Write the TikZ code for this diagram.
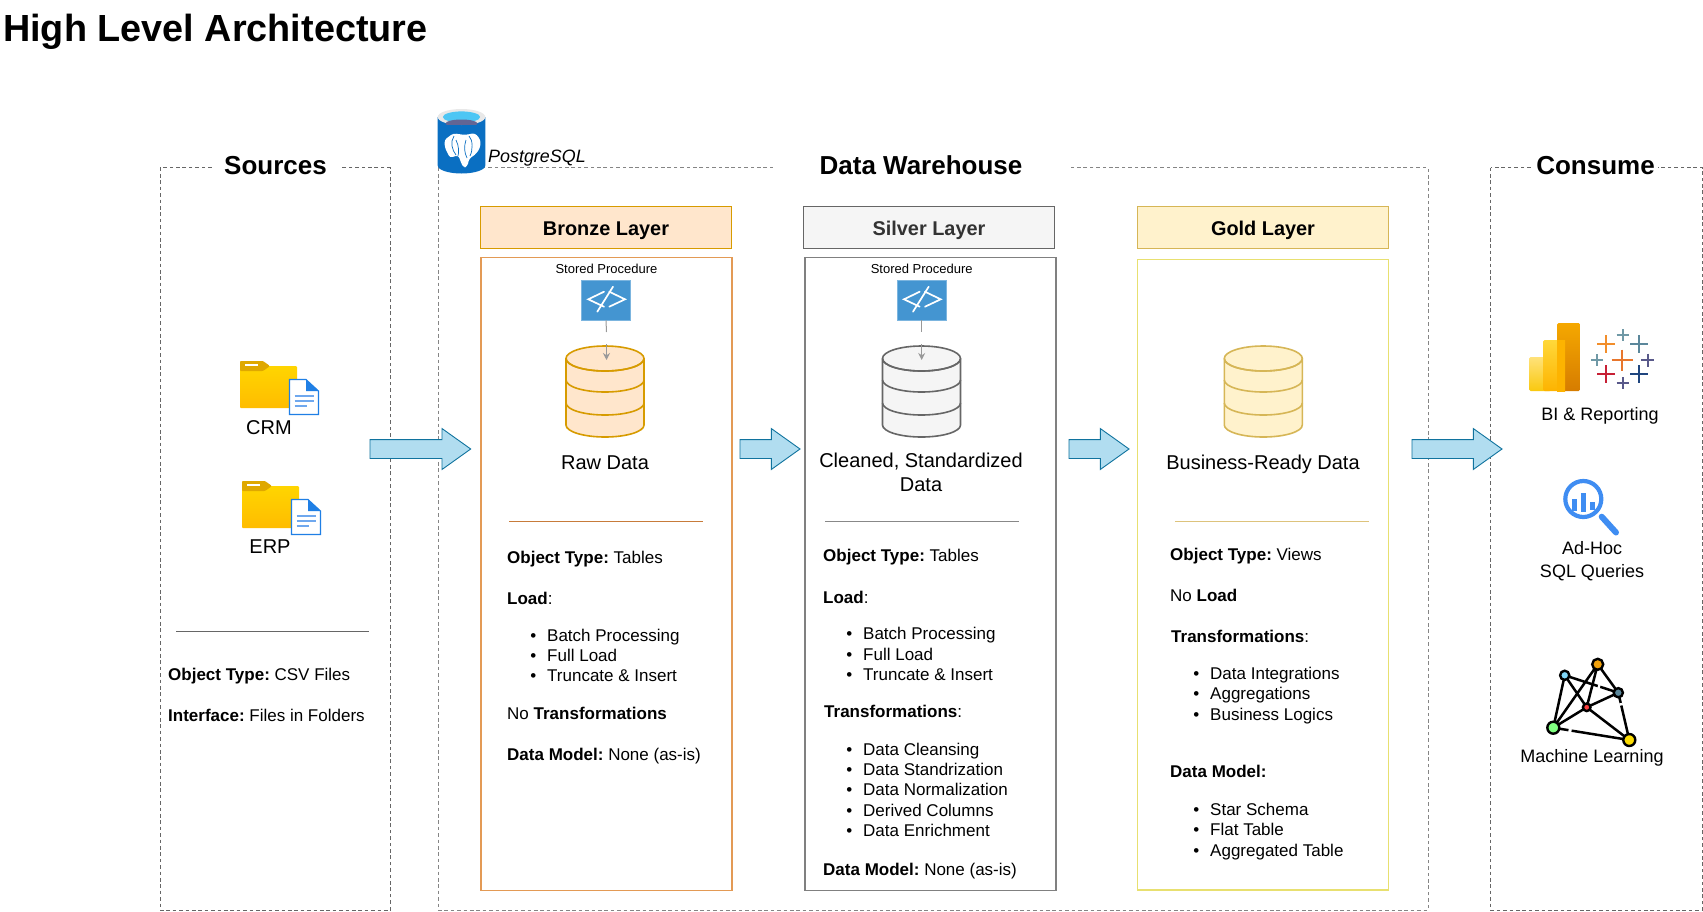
\documentclass[tikz,border=0pt]{standalone}
\usepackage{fontspec}
\setmainfont{Liberation Sans}
\usetikzlibrary{shapes.arrows,arrows.meta,calc}
\frenchspacing
\definecolor{frameC}{HTML}{666666}
\definecolor{brF}{HTML}{FFE6CC}\definecolor{brS}{HTML}{D79B00}\definecolor{brB}{HTML}{E39A55}\definecolor{brL}{HTML}{C77B3A}
\definecolor{siF}{HTML}{F5F5F5}\definecolor{siS}{HTML}{666666}\definecolor{siB}{HTML}{808080}\definecolor{siL}{HTML}{888888}
\definecolor{goF}{HTML}{FFF2CC}\definecolor{goS}{HTML}{D6B656}\definecolor{goB}{HTML}{E8E070}\definecolor{goL}{HTML}{DDC37C}
\definecolor{arF}{HTML}{B1DDF0}\definecolor{arS}{HTML}{10739E}
\definecolor{codeC}{HTML}{4495D1}
\definecolor{docB}{HTML}{1F7FE5}\definecolor{docL}{HTML}{6FA8EE}
\definecolor{magC}{HTML}{3F8DF2}
\definecolor{pgB}{HTML}{0A6FC2}
\definecolor{fdT}{HTML}{FFD500}\definecolor{fdB}{HTML}{FFBC00}\definecolor{fdTab}{HTML}{DFA800}
\definecolor{pbA}{HTML}{FFE27A}\definecolor{pbB}{HTML}{F9C80E}\definecolor{pbC}{HTML}{FFD83A}\definecolor{pbD}{HTML}{FDB300}
\definecolor{pbE}{HTML}{F5A800}\definecolor{pbF}{HTML}{D67C00}
\definecolor{tbO}{HTML}{E8762C}\definecolor{tbO2}{HTML}{F28E2B}\definecolor{tbS}{HTML}{5B879B}\definecolor{tbT}{HTML}{7099A6}
\definecolor{tbP}{HTML}{59598A}\definecolor{tbR}{HTML}{C72035}\definecolor{tbN}{HTML}{1F457E}
\tikzset{
  frameline/.style={draw=frameC,line width=0.9pt,dash pattern=on 3.6pt off 2.8pt},
  boxnode/.style={rectangle,inner sep=0,outer sep=0,anchor=north west,line width=1.2pt},
  bodytxt/.style={font=\fontsize{17}{20}\selectfont,text height=12.2pt,text depth=0pt,inner sep=0,anchor=west},
  midtxt/.style={font=\fontsize{20}{24}\selectfont,text height=14.3pt,text depth=0pt,inner sep=0,anchor=center},
  laytxt/.style={font=\fontsize{19.9}{24}\selectfont\bfseries,text height=14.3pt,text depth=0pt,inner sep=0,anchor=center},
  usetxt/.style={font=\fontsize{18}{22}\selectfont,text height=13pt,text depth=0pt,inner sep=0,anchor=center},
  sectxt/.style={font=\fontsize{26}{30}\selectfont\bfseries,text height=18.6pt,text depth=0pt,inner sep=0,anchor=center,fill=white},
  sptxt/.style={font=\fontsize{13}{15}\selectfont,text height=9.3pt,text depth=0pt,inner sep=0,anchor=center},
  blockarrow/.style={single arrow,draw=arS,fill=arF,line width=0.9pt,inner sep=0,outer sep=0,inner ysep=9pt,minimum width=40pt,
    single arrow head extend=11pt,single arrow head indent=0pt,single arrow tip angle=71,anchor=tail},
  codebox/.style={rectangle,fill=codeC,draw=codeC!70!white,line width=0.6pt,inner sep=0,minimum width=49.5pt,minimum height=39.5pt,anchor=center},
  proc/.style={draw=black!40,line width=1pt},
}
\newcommand{\txt}[4]{\node[bodytxt] (#1) at (#2,#3) {#4};}
\newcommand{\bul}[4]{\node[bodytxt] (#1) at (#2,#3) {\makebox[0pt][r]{•\hspace{11pt}}#4};}
\newcommand{\dbcyl}[5]{%
  \node[inner sep=0,minimum width=78pt,minimum height=91pt] (#1) at (#2,391.5) {};
  \filldraw[fill=#3,draw=#4,line width=1.6pt]
    (#2-39,358.5) -- (#2-39,425) arc[start angle=180,end angle=360,x radius=39,y radius=-12] -- (#2+39,358.5)
    arc[start angle=0,end angle=360,x radius=39,y radius=-12.5] ;
  \draw[draw=#4,line width=1.6pt] (#2-39,358.5) arc[start angle=180,end angle=360,x radius=39,y radius=-12.5];
  \draw[draw=#4,line width=1.6pt] (#2-39,380) arc[start angle=180,end angle=360,x radius=39,y radius=-12];
  \draw[draw=#4,line width=1.6pt] (#2-39,403) arc[start angle=180,end angle=360,x radius=39,y radius=-12];
}
\newcommand{\codeicon}[3]{%
  \node[codebox] (#1) at (#2,#3) {};
  \begin{scope}[shift={(#2,#3)},draw=white,line width=1.7pt,line cap=round]
    \draw (-2,-8.6) -- (-17.7,-1) -- (-2,6.4);
    \draw (3.3,-8.6) -- (19,-1) -- (3.3,6.4);
    \draw (7,-13.6) -- (-8.7,11.4);
  \end{scope}
}
\newcommand{\folderic}[3]{%
  \begin{scope}[shift={(#2,#3)}]
    \path[rounded corners=1pt,top color=fdT,bottom color=fdB] (0,5) rectangle (57,47);
    \fill[fill=fdTab] (0,1) [rounded corners=1pt] -- (0,0) -- (23,0) -- (30,5) -- (23,10) -- (0,10) -- cycle;
    \fill[white] (5,2.6) rectangle (18,4.6);
    \filldraw[fill=white,draw=docB,line width=1.1pt] (49.5,18.5) -- (66,18.5) -- (78.5,30) -- (78.5,53.5) -- (49.5,53.5) -- cycle;
    \fill[docB] (66,18.5) -- (78.5,30) -- (66,30) -- cycle;
    \draw[docL,line width=1.8pt] (54.5,35) -- (74,35) (54.5,40) -- (74,40) (54.5,45) -- (67,45);
  \end{scope}
  \coordinate (#1) at (#2,#3);
}
\newcommand{\tcross}[4]{\draw[#4,line width=2.2pt] (#1-#3,#2) -- (#1+#3,#2) (#1,#2-#3) -- (#1,#2+#3);}
\begin{document}
\begin{tikzpicture}[x=1pt,y=-1pt]
\useasboundingbox (0,0) rectangle (1703,911);
\fill[white] (0,0) rectangle (1703,911);

% title
\node[font=\fontsize{37.8}{42}\selectfont\bfseries,text height=27pt,text depth=0pt,inner sep=0,anchor=west] (maintitle) at (3,28) {High Level Architecture};

% dashed frames
\draw[frameline] (160,167.5) rectangle (390.5,910);
\draw[frameline,draw=frameC!80] (438,167.5) rectangle (1428,910);
\draw[frameline] (1490.5,167.5) rectangle (1702.4,910);

% section titles
\node[sectxt,minimum width=128pt] (srcTitle) at (275.5,165) {Sources};
\node[sectxt,minimum width=297pt] (dwTitle) at (921,165) {Data Warehouse};
\node[sectxt,minimum width=125pt] (useTitle) at (1595.5,165) {Consume};

% layer headers
\node[boxnode,draw=brS,fill=brF,minimum width=251pt,minimum height=42pt] (brH) at (480.3,206.6) {};
\node[laytxt] (brHt) at (606,228) {Bronze Layer};
\node[boxnode,draw=siS,fill=siF,minimum width=251pt,minimum height=42pt] (siH) at (803.5,206.6) {};
\node[laytxt,text=black!80] (siHt) at (929,228) {Silver Layer};
\node[boxnode,draw=goS,fill=goF,minimum width=251pt,minimum height=42pt] (goH) at (1137.5,206.6) {};
\node[laytxt] (goHt) at (1263,228) {Gold Layer};

% layer bodies
\node[boxnode,draw=brB,minimum width=251pt,minimum height=633.5pt] (brBox) at (481,257.3) {};
\node[boxnode,draw=siB,minimum width=251pt,minimum height=633pt] (siBox) at (805,257.3) {};
\node[boxnode,draw=goB,minimum width=251pt,minimum height=630.5pt] (goBox) at (1137.8,259.5) {};

% stored procedures
\node[sptxt] (brSP) at (606.5,269) {Stored Procedure};
\node[sptxt] (siSP) at (921.7,269) {Stored Procedure};

% cylinders
\dbcyl{brDb}{605}{brF}{brS}{}
\dbcyl{siDb}{921.5}{siF}{siS}{}
\dbcyl{goDb}{1263.3}{goF}{goS}{}

\codeicon{brCode}{606}{300.3}
\codeicon{siCode}{921.7}{300.3}
\coordinate (brG1) at (606.5,332); \coordinate (brG2) at (606.5,344); \coordinate (brG3) at (606.5,360);
\coordinate (siG1) at (921.7,332); \coordinate (siG2) at (921.7,344); \coordinate (siG3) at (921.7,360);
\draw[proc] (brCode.south) -- (brG1);
\draw[proc,-{Stealth[length=7pt,width=7pt]}] (brG2) -- (brG3);
\draw[proc] (siCode.south) -- (siG1);
\draw[proc,-{Stealth[length=7pt,width=7pt]}] (siG2) -- (siG3);

% layer captions
\node[midtxt] (brCap) at (605,462) {Raw Data};
\node[midtxt] (siCap1) at (921,460) {Cleaned, Standardized};
\node[midtxt] (siCap2) at (921,484) {Data};
\node[midtxt] (goCap) at (1263,462) {Business-Ready Data};

% separators
\coordinate (srcL1) at (176,631); \coordinate (srcL2) at (369,631);
\coordinate (brL1) at (509,521.5); \coordinate (brL2) at (703,521.5);
\coordinate (siL1) at (825,521.5); \coordinate (siL2) at (1019,521.5);
\coordinate (goL1) at (1175,521.5); \coordinate (goL2) at (1369,521.5);
\draw[frameC,line width=0.9pt] (srcL1) -- (srcL2);
\draw[brL,line width=1pt] (brL1) -- (brL2);
\draw[siL,line width=0.9pt] (siL1) -- (siL2);
\draw[goL,line width=1pt] (goL1) -- (goL2);

% sources
\folderic{crmIcon}{240}{361}
\folderic{erpIcon}{242}{481}
\node[midtxt] (crmT) at (269,427) {CRM};
\node[midtxt] (erpT) at (270,546) {ERP};
\txt{s1}{168}{674.5}{\textbf{Object Type:} CSV Files}
\txt{s2}{168}{715.5}{\textbf{Interface:} Files in Folders}

% bronze text
\txt{b1}{507}{557}{\textbf{Object Type:} Tables}
\txt{b2}{507}{598}{\textbf{Load}:}
\bul{b3}{547}{635}{Batch Processing}
\bul{b4}{547}{655}{Full Load}
\bul{b5}{547}{675.5}{Truncate \& Insert}
\txt{b6}{507}{713}{No \textbf{Transformations}}
\txt{b7}{507}{754}{\textbf{Data Model:} None (as-is)}

% silver text
\txt{c1}{823}{555}{\textbf{Object Type:} Tables}
\txt{c2}{823}{597}{\textbf{Load}:}
\bul{c3}{863}{633}{Batch Processing}
\bul{c4}{863}{654}{Full Load}
\bul{c5}{863}{674.5}{Truncate \& Insert}
\txt{c6}{824}{711}{\textbf{Transformations}:}
\bul{c7}{863}{749}{Data Cleansing}
\bul{c8}{863}{769.5}{Data Standrization}
\bul{c9}{863}{789.5}{Data Normalization}
\bul{c10}{863}{810}{Derived Columns}
\bul{c11}{863}{830}{Data Enrichment}
\txt{c12}{823}{869}{\textbf{Data Model:} None (as-is)}

% gold text
\txt{g1}{1170}{554}{\textbf{Object Type:} Views}
\txt{g2}{1170}{595}{No \textbf{Load}}
\txt{g3}{1171}{636.5}{\textbf{Transformations}:}
\bul{g4}{1210}{673}{Data Integrations}
\bul{g5}{1210}{693.5}{Aggregations}
\bul{g6}{1210}{714.5}{Business Logics}
\txt{g7}{1170}{771}{\textbf{Data Model:}}
\bul{g8}{1210}{809}{Star Schema}
\bul{g9}{1210}{829.5}{Flat Table}
\bul{g10}{1210}{850.5}{Aggregated Table}

% block arrows
\node[blockarrow,minimum height=100.7pt] (arr1) at (370,449) {};
\node[blockarrow,minimum height=60pt] (arr2) at (740,449) {};
\node[blockarrow,minimum height=60pt] (arr3) at (1069,449) {};
\node[blockarrow,minimum height=90pt] (arr4) at (1412,449) {};

% PostgreSQL icon
\fill[pgB] (437.7,117) -- (437.7,165.5) arc[start angle=180,end angle=360,x radius=23.8,y radius=-8] -- (485.3,117) -- cycle;
\fill[gray!18] (461.5,117) ellipse[x radius=23.8,y radius=8];
\fill[cyan!70!white] (461.5,117) ellipse[x radius=18.6,y radius=5.6];
\begin{scope}
  \clip (442,118.5) rectangle (481,124);
  \fill[cyan!20!blue!60!black!80] (461.5,123.5) ellipse[x radius=16,y radius=4];
\end{scope}
\fill[white,rounded corners=3pt] (444.3,140) -- (453.3,133.3) -- (465,135) -- (475,133) -- (480.7,140) -- (480,148.3) -- (475,155) -- (469.3,158.3) -- (467.3,166.7) -- (463.3,167.7) -- (460.7,161.7) -- (458.3,155) -- (450,158) -- (445,148) -- cycle;
\draw[pgB,line width=0.7pt] (454,136) .. controls (450,142) and (452,150) .. (456,155) (469,136) .. controls (473,140) and (473,150) .. (470,156);
\draw[pgB,line width=0.7pt] (456,140) .. controls (459,146) and (459,152) .. (458,156) (466,140) .. controls (464,146) and (464,152) .. (467,158);
\node[font=\fontsize{17.9}{20}\selectfont\itshape,text height=12.8pt,text depth=0pt,inner sep=0,anchor=west] (pgT) at (488,156.5) {PostgreSQL};

% Power BI
\path[rounded corners=1.5pt,top color=pbA,bottom color=pbB] (1529,357) rectangle (1551,391);
\path[rounded corners=1.5pt,top color=pbC,bottom color=pbD] (1543,340) rectangle (1565,391);
\path[rounded corners=1.5pt,top color=pbE,bottom color=pbF] (1557,323) rectangle (1580,391);
\path[top color=pbD,bottom color=pbD] (1557,340.5) rectangle (1565,391);
% Tableau
\tcross{1622}{360}{10.5}{tbO}
\tcross{1606}{344}{9}{tbO2}
\tcross{1639}{344}{9}{tbS}
\tcross{1622.7}{335}{6}{tbT}
\tcross{1597.3}{360}{6}{tbT}
\tcross{1647.7}{360}{6.5}{tbP}
\tcross{1606}{374.3}{9}{tbR}
\tcross{1639}{374.3}{9}{tbN}
\tcross{1622.7}{383.3}{6}{tbP}
\node[usetxt] (biT) at (1600,414) {BI \& Reporting};

% magnifier
\draw[magC,line width=4.2pt] (1583.3,499) circle[radius=18];
\draw[magC,line width=6pt,line cap=round] (1601.7,516.7) -- (1616,532.5);
\fill[magC] (1572,499) rectangle (1577,511);
\fill[magC] (1581,493) rectangle (1586,512);
\fill[magC] (1590,502) rectangle (1595,510);
\node[usetxt] (adT1) at (1592,548) {Ad-Hoc};
\node[usetxt] (adT2) at (1592,571) {SQL Queries};

% network
\coordinate (nO) at (1597.7,664.3);
\coordinate (nB) at (1564.7,675.3);
\coordinate (nT) at (1618.3,692.7);
\coordinate (nR) at (1586.7,707.3);
\coordinate (nG) at (1553.3,727.7);
\coordinate (nY) at (1629.3,740);
\draw[black,line width=2.5pt] (nB)--(nG) (nB)--(nR) (nB)--(nT) (nO)--(nG) (nO)--(nR) (nO)--(nT) (nT)--(nR) (nT)--(nY) (nR)--(nG) (nR)--(nY) (nG)--(nY);
\draw[white,line width=3.5pt] ($(nB)!0.62!(nT)$) -- ($(nB)!0.66!(nT)$) ($(nT)!0.22!(nY)$) -- ($(nT)!0.27!(nY)$) ($(nG)!0.2!(nY)$) -- ($(nG)!0.24!(nY)$);
\filldraw[fill=orange!70!yellow!90!gray,draw=black,line width=2.4pt] (nO) circle[radius=5.5];
\filldraw[fill=cyan!50!white,draw=black,line width=2.4pt] (nB) circle[radius=4.6];
\filldraw[fill=tbS,draw=black,line width=2.4pt] (nT) circle[radius=4.6];
\filldraw[fill=red!75!white,draw=black,line width=2.4pt] (nR) circle[radius=3.8];
\filldraw[fill=green!50!white,draw=black,line width=2.4pt] (nG) circle[radius=6];
\filldraw[fill=yellow!80!orange,draw=black,line width=2.4pt] (nY) circle[radius=6];
\node[usetxt] (mlT) at (1592,756) {Machine Learning};
\end{tikzpicture}
\end{document}
